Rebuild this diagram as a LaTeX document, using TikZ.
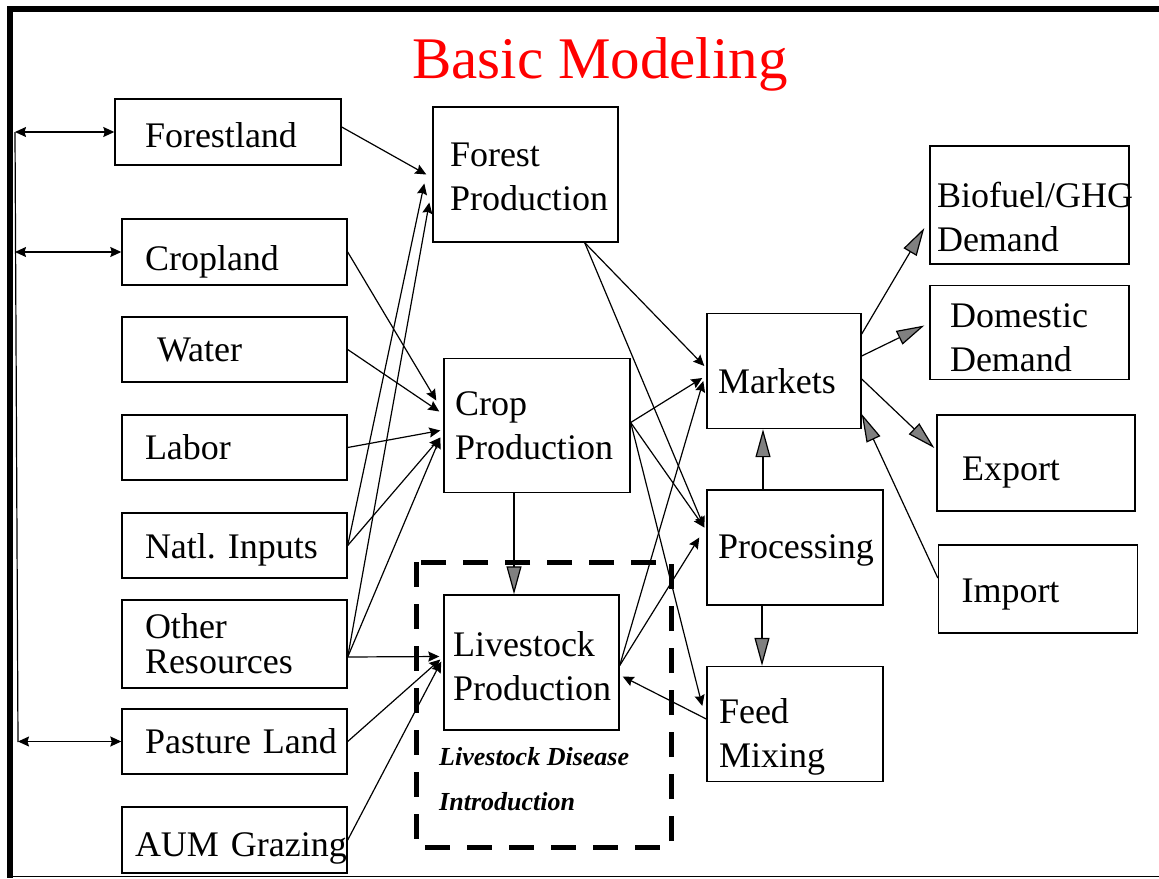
\documentclass[tikz,border=0pt]{standalone}
\usepackage{fontspec}
\setmainfont{Liberation Serif}
\usetikzlibrary{arrows.meta}

\tikzset{
  box/.style={draw, line width=1.4pt, inner sep=0pt, align=left,
    font=\fontsize{36}{44}\selectfont},
  pad/.style={execute at begin node={\leftskip=#1\relax}},
  conn/.style={line width=1.2pt},
  bigarrow/.style={line width=1.2pt, -{Triangle[length=28pt,width=15pt,fill=gray]}},
}

\begin{document}
\begin{tikzpicture}[x=1pt, y=-1pt, >={Stealth[length=11pt,width=10pt,inset=1.5pt]}]
  \useasboundingbox (0,0) rectangle (1159,878);
  % frame
  \draw[line width=6pt] (1159,8.5) -- (10,8.5) -- (10,878);
  \draw[line width=1.5pt] (10,876.5) -- (1159,876.5);

  % title
  \node[text=red, font=\fontsize{59}{60}\selectfont, anchor=base] (title) at (600,78) {Basic Modeling};

  % resources
  \node[box, text width=226pt, minimum height=66pt, pad=30pt, text height=32pt] (fl) at (228,132) {Forestland};
  \node[box, text width=225pt, minimum height=66pt, pad=23pt, text height=43.8pt] (cl) at (234.5,252) {Cropland};
  \node[box, text width=225pt, minimum height=65pt, pad=35pt] (wa) at (234.5,349.5) {Water};
  \node[box, text width=225pt, minimum height=65pt, pad=23pt] (la) at (234.5,447.5) {Labor};
  \node[box, text width=225pt, minimum height=65pt, pad=23pt, text height=34.6pt] (ni) at (234.5,545.5) {Natl.\ Inputs};
  \node[box, text width=225pt, minimum height=88pt, pad=23pt, font=\fontsize{36}{35}\selectfont] (ot) at (234.5,644) {Other\\Resources};
  \node[box, text width=225pt, minimum height=65pt, pad=23pt] (pa) at (234.5,741.5) {Pasture Land};
  \node[box, text width=225pt, minimum height=66pt, pad=13pt, text height=41pt] (aum) at (234.5,840) {AUM Grazing};

  % production
  \node[box, text width=185pt, minimum height=135pt, pad=17pt, text height=28pt] (fp) at (525.5,174.5) {Forest\\Production};
  \node[box, text width=186pt, minimum height=134pt, pad=11pt] (cp) at (537,425.5) {Crop\\Production};
  \node[box, text width=175pt, minimum height=135pt, pad=9pt, text height=32.6pt] (lp) at (531.5,662.5) {Livestock\\Production};

  % markets and processing
  \node[box, text width=154pt, minimum height=115pt, pad=11pt, text height=45pt] (mk) at (784,371) {Markets};
  \node[box, text width=176pt, minimum height=115pt, pad=11pt, text height=30.6pt] (pr) at (795,547.5) {Processing};
  \node[box, text width=176pt, minimum height=115pt, pad=12pt, text height=50.6pt] (fm) at (795,724) {Feed\\Mixing};

  % demand side
  \node[box, text width=199pt, minimum height=118pt, pad=7pt, text height=50pt] (bf) at (1029.5,205) {Biofuel/GHG\\Demand};
  \node[box, text width=199pt, minimum height=94pt, pad=20pt, text height=35pt] (dd) at (1029.5,332.5) {Domestic\\Demand};
  \node[box, text width=198pt, minimum height=96pt, pad=25pt, text height=42pt] (ex) at (1036,463) {Export};
  \node[box, text width=199pt, minimum height=88pt, pad=23pt, text height=34pt] (im) at (1038,589) {Import};

  % disease area
  \draw[line width=5pt, dash pattern=on 25pt off 17pt] (416,562) rectangle (671,847);
  \node[anchor=north west, inner sep=0pt, align=left, font=\fontsize{26}{45}\selectfont\bfseries\itshape] (dis) at (439,747) {Livestock Disease\\Introduction};

  % land links
  \coordinate (bustop) at (15,132);
  \coordinate (busbot) at (18,742);
  \draw[conn] (bustop) -- (busbot);
  \draw[conn,<->] (bustop) -- (fl.west);
  \draw[conn,<->] (bustop |- cl.west) -- (cl.west);
  \draw[conn,<->] (busbot |- pa.west) -- (pa.west);

  % inputs to production
  \draw[conn,->] ([yshift=5pt]fl.east) -- ([xshift=-6pt]fp.west);
  \draw[conn,->] (cl.east) -- ([shift={(-7,-25)}]cp.west);
  \draw[conn,->] (wa.east) -- ([shift={(-4,-14)}]cp.west);
  \draw[conn,->] (la.east) -- ([shift={(-3,5)}]cp.west);
  \draw[conn,->] (ni.east) -- ([shift={(-3,12)}]cp.west);
  \draw[conn,->] (ni.east) -- ([shift={(-8,9)}]fp.west);
  \draw[conn,->] ([yshift=-13pt]ot.east) -- ([shift={(-3,28)}]fp.west);
  \draw[conn,->] ([yshift=-13pt]ot.east) -- ([shift={(-3,12)}]cp.west);
  \draw[conn,->] ([yshift=-13pt]ot.east) -- ([shift={(-4,-6)}]lp.west);
  \draw[conn,->] (pa.east) -- ([shift={(-3,-3)}]lp.west);
  \draw[conn,->] (aum.east) -- ([shift={(-2,-1)}]lp.west);

  % production to markets
  \draw[conn,->] ([xshift=-34pt]fp.south east) -- ([shift={(-2,-5)}]mk.west);
  \draw[conn,->] ([xshift=-34pt]fp.south east) -- ([shift={(-2,-20)}]pr.west);
  \draw[conn,->] ([yshift=3pt]cp.east) -- ([shift={(-4,7)}]mk.west);
  \draw[conn,->] ([yshift=3pt]cp.east) -- ([shift={(-2,-20)}]pr.west);
  \draw[conn,->] ([yshift=3pt]cp.east) -- ([shift={(-4,-18)}]fm.west);
  \draw[conn,->] ([yshift=-3pt]lp.east) -- ([shift={(-3,10)}]mk.west);
  \draw[conn,->] ([yshift=-3pt]lp.east) -- ([shift={(-7,-10)}]pr.west);
  \draw[conn,->] ([yshift=5pt]fm.west) -- ([shift={(3,14)}]lp.east);

  % gray arrows
  \draw[bigarrow] ([xshift=-23pt]cp.south) -- ([xshift=-23pt]cp.south |- lp.north);
  \draw[bigarrow] ([xshift=-21pt]mk.south |- pr.north) -- ([xshift=-21pt]mk.south);
  \draw[bigarrow] ([xshift=-33pt]pr.south) -- ([xshift=-33pt]pr.south |- fm.north);
  \draw[bigarrow] ([yshift=37pt]mk.east) -- ([shift={(-5,23)}]bf.west);
  \draw[bigarrow] ([yshift=15pt]mk.east) -- ([shift={(-5,-7)}]dd.west);
  \draw[bigarrow] ([yshift=-8pt]mk.east) -- ([shift={(-2,-15)}]ex.west);
  \draw[bigarrow] ([yshift=11pt]im.west) -- ([shift={(0,43)}]mk.east);
\end{tikzpicture}
\end{document}
